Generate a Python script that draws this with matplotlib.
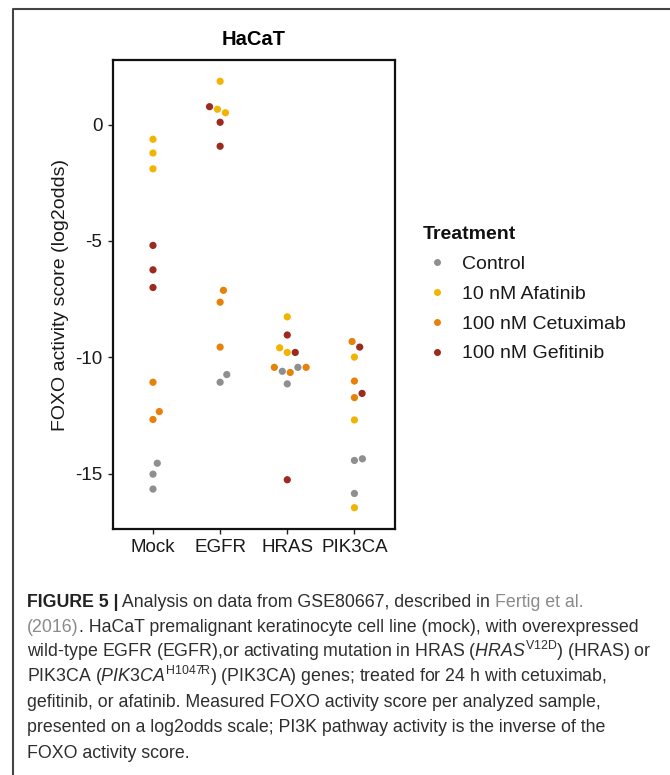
import matplotlib
matplotlib.use('Agg')
import matplotlib.pyplot as plt
from matplotlib import font_manager
from matplotlib.lines import Line2D

groups = ['Mock', 'EGFR', 'HRAS', 'PIK3CA']
treatments = ['Control', '10 nM Afatinib', '100 nM Cetuximab', '100 nM Gefitinib']
colors = ['#8f8f8f', '#f2b400', '#e8810a', '#9c2a1e']

# FOXO activity score (log2odds) per sample, by cell line
control = {'Mock': [-14.55, -15.02, -15.66], 'EGFR': [-11.07, -10.74],
           'HRAS': [-10.60, -10.43, -11.14], 'PIK3CA': [-14.43, -14.36, -15.85]}
afatinib = {'Mock': [-0.63, -1.22, -1.90], 'EGFR': [1.86, 0.66, 0.51],
            'HRAS': [-8.26, -9.59, -9.79], 'PIK3CA': [-9.99, -12.69, -16.46]}
cetuximab = {'Mock': [-11.07, -12.33, -12.67], 'EGFR': [-7.12, -7.63, -9.56],
             'HRAS': [-10.43, -10.65, -10.43], 'PIK3CA': [-9.32, -11.02, -11.73]}
gefitinib = {'Mock': [-5.19, -6.24, -7.00], 'EGFR': [0.77, 0.10, -0.93],
             'HRAS': [-9.04, -9.79, -15.26], 'PIK3CA': [-9.56, -11.55]}

# beeswarm offsets (category units)
control_dx = {'Mock': [0.064, 0, 0], 'EGFR': [0, 0.099],
              'HRAS': [-0.074, 0.158, 0], 'PIK3CA': [0, 0.119, 0]}
afatinib_dx = {'Mock': [0, 0, 0], 'EGFR': [0, -0.04, 0.079],
               'HRAS': [0, -0.114, 0], 'PIK3CA': [0, 0, 0]}
cetuximab_dx = {'Mock': [0, 0.094, 0], 'EGFR': [0.049, 0, 0],
                'HRAS': [-0.193, 0.044, 0.281], 'PIK3CA': [-0.035, 0, 0]}
gefitinib_dx = {'Mock': [0, 0, 0], 'EGFR': [-0.158, 0, 0],
                'HRAS': [0, 0.119, 0], 'PIK3CA': [0.079, 0.114]}

series = [(control, control_dx), (afatinib, afatinib_dx),
          (cetuximab, cetuximab_dx), (gefitinib, gefitinib_dx)]

plt.rcParams['font.family'] = ['Liberation Sans', 'DejaVu Sans']
plt.rcParams['axes.unicode_minus'] = False

W, H = 670, 775
fig = plt.figure(figsize=(W / 100, H / 100), dpi=100)

# outer frame of the figure panel
fig.add_artist(Line2D([13 / W, 13 / W, 1], [0, 1 - 9 / H, 1 - 9 / H],
                      transform=fig.transFigure, color='#444444', lw=1.5))

ax = fig.add_axes([112.7 / W, 1 - 529 / H, 282 / W, 469 / H])

all_vals = []
for (scores, offs), name, col in zip(series, treatments, colors):
    xs, ys = [], []
    for g in groups:
        if g not in scores:
            continue
        for v, d in zip(scores[g], offs[g]):
            xs.append(groups.index(g) + 1 + d)
            ys.append(v)
    all_vals += ys
    ax.scatter(xs, ys, s=27, color=col, edgecolors='none', label=name, zorder=3)

lo, hi = min(all_vals), max(all_vals)
pad = 0.05 * (hi - lo)
ax.set_ylim(lo - pad, hi + pad)
ax.set_xlim(0.4, 4.6)
ax.set_xticks(range(1, 5))
ax.set_xticklabels(groups)
ax.set_yticks([0, -5, -10, -15])
ax.tick_params(labelsize=13.5, length=3.5, width=1, pad=4, colors='#222222',
               labelcolor='#1a1a1a')
for sp in ax.spines.values():
    sp.set_linewidth(1.6)
    sp.set_color('#111111')
ax.set_title('HaCaT', fontsize=14.5, fontweight='bold', pad=10.5)
ax.set_ylabel('FOXO activity score (log2odds)', fontsize=14, color='#1a1a1a')
ax.yaxis.set_label_coords(-0.155, 0.5)

handles = [Line2D([], [], marker='o', ls='none', color=c, markersize=4)
           for c in colors]
leg = fig.legend(handles, treatments, loc='upper left',
                 bbox_to_anchor=(423 / W, 1 - 226 / H), frameon=False,
                 fontsize=14, title='Treatment', alignment='left',
                 title_fontproperties={'weight': 'bold', 'size': 14},
                 borderpad=0, borderaxespad=0, handlelength=1.45,
                 handletextpad=0.55, labelspacing=0.63)
leg.get_title().set_color('#111111')
for t in leg.get_texts():
    t.set_color('#1a1a1a')

# caption
names = {f.name for f in font_manager.fontManager.ttflist}
cap_font = 'Liberation Sans Narrow' if 'Liberation Sans Narrow' in names else 'Liberation Sans'
plt.rcParams['mathtext.fontset'] = 'custom'
plt.rcParams['mathtext.rm'] = cap_font
plt.rcParams['mathtext.it'] = cap_font + ':italic'

body = '#2e2e2e'
link = '#8a8a8a'
renderer = fig.canvas.get_renderer()
probe = fig.text(0, 0, '(2016). HaCaT premalignant keratinocyte cell line (mock), with overexpressed',
                 fontsize=10, family=cap_font)
cap_size = 10 * 615 / probe.get_window_extent(renderer).width
probe.remove()

x0 = 27
base = [H - (607 + 25.1 * i) for i in range(7)]
bg = fig.add_axes([0, 0, 1, 1], zorder=-1)
bg.axis('off')


def chain(pieces, y):
    prev = None
    for txt, col, weight in pieces:
        kw = dict(fontsize=cap_size, family=cap_font, color=col,
                  fontweight=weight, va='baseline', ha='left')
        if prev is None:
            prev = bg.annotate(txt, xy=(x0, y), xycoords='figure pixels', **kw)
        else:
            prev = bg.annotate(txt, xy=(1, y), xycoords=(prev, 'figure pixels'), **kw)


chain([('FIGURE 5 |', '#222222', 'bold'),
       (' Analysis on data from GSE80667, described in ', body, 'normal'),
       ('Fertig et al.', link, 'normal')], base[0])
chain([('(2016)', link, 'normal'),
       ('. HaCaT premalignant keratinocyte cell line (mock), with overexpressed', body, 'normal')],
      base[1])
chain([(r'wild-type EGFR (EGFR),or activating mutation in HRAS ($\mathit{HRAS}^{\mathrm{V12D}}$) (HRAS) or',
        body, 'normal')], base[2])
chain([(r'PIK3CA ($\mathit{PIK3CA}^{\mathrm{H1047R}}$) (PIK3CA) genes; treated for 24 h with cetuximab,',
        body, 'normal')], base[3])
chain([('gefitinib, or afatinib. Measured FOXO activity score per analyzed sample,', body, 'normal')],
      base[4])
chain([('presented on a log2odds scale; PI3K pathway activity is the inverse of the', body, 'normal')],
      base[5])
chain([('FOXO activity score.', body, 'normal')], base[6])

fig.savefig('out.png', dpi=100)
